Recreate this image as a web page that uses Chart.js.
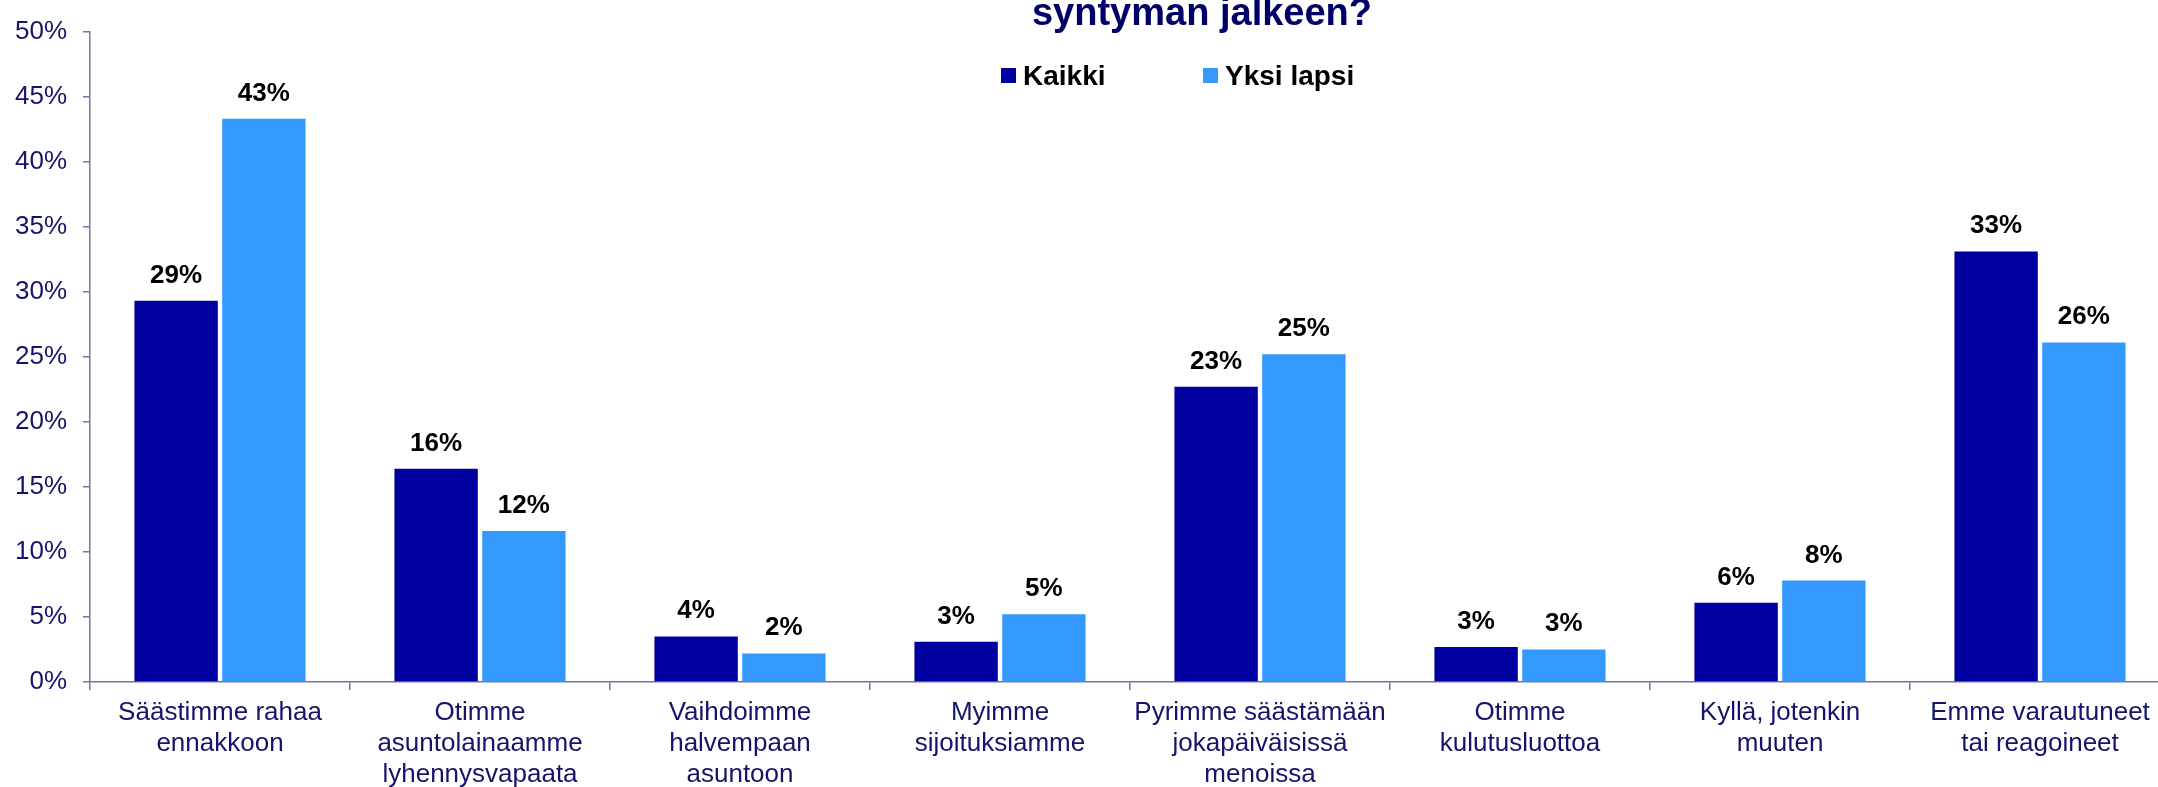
<!DOCTYPE html>
<html>
<head>
<meta charset="utf-8">
<script src="https://cdn.jsdelivr.net/npm/chart.js@4/dist/chart.umd.min.js"></script>
<style>
  html, body { margin: 0; padding: 0; background: #fff; overflow: hidden; }
  canvas { display: block; }
</style>
</head>
<body>
<canvas id="barChart" width="2170" height="787" style="width:2170px;height:787px"></canvas>
<script>
// chart data
const categories = [
    ['Säästimme rahaa', 'ennakkoon'],
    ['Otimme', 'asuntolainaamme', 'lyhennysvapaata'],
    ['Vaihdoimme', 'halvempaan', 'asuntoon'],
    ['Myimme', 'sijoituksiamme'],
    ['Pyrimme säästämään', 'jokapäiväisissä', 'menoissa'],
    ['Otimme', 'kulutusluottoa'],
    ['Kyllä, jotenkin', 'muuten'],
    ['Emme varautuneet', 'tai reagoineet']
];
const seriesNames = ['Kaikki', 'Yksi lapsi'];
const kaikkiValues = [29.3, 16.4, 3.5, 3.1, 22.7, 2.7, 6.1, 33.1];
const yksiLapsiValues = [43.3, 11.6, 2.2, 5.2, 25.2, 2.5, 7.8, 26.1];
const seriesColors = ['#0000a0', '#3399ff'];
const titleText = 'syntyman jalkeen?';

const axisColor = '#7474a8';
const navy = '#14146b';
const fontFamily = '"Liberation Sans", Arial, sans-serif';

// title + legend drawn over the top of the plot, like in the original
const headerPlugin = {
    id: 'header',
    afterDraw(chart) {
        const ctx = chart.ctx;
        ctx.save();
        ctx.fillStyle = '#000066';
        ctx.font = 'bold 38px ' + fontFamily;
        ctx.textAlign = 'center';
        ctx.textBaseline = 'alphabetic';
        ctx.fillText(titleText, 1202, 25);

        const boxX = [1001, 1203];
        chart.data.datasets.forEach((ds, i) => {
            ctx.fillStyle = ds.backgroundColor;
            ctx.fillRect(boxX[i], 68, 15, 15);
            ctx.fillStyle = '#000';
            ctx.font = 'bold 28px ' + fontFamily;
            ctx.textAlign = 'left';
            ctx.fillText(ds.label, boxX[i] + 22, 85);
        });
        ctx.restore();
    }
};

// value labels above each bar
const valueLabelPlugin = {
    id: 'valueLabels',
    afterDatasetsDraw(chart) {
        const ctx = chart.ctx;
        ctx.save();
        ctx.fillStyle = '#000';
        ctx.font = 'bold 26px ' + fontFamily;
        ctx.textAlign = 'center';
        ctx.textBaseline = 'alphabetic';
        chart.data.datasets.forEach((ds, i) => {
            chart.getDatasetMeta(i).data.forEach((bar, j) => {
                ctx.fillText(Math.round(ds.data[j]) + '%', bar.x, bar.y - 18);
            });
        });
        ctx.restore();
    }
};

const barCtx = document.getElementById('barChart').getContext('2d');
new Chart(barCtx, {
    type: 'bar',
    data: {
        labels: categories,
        datasets: [
            {
                label: seriesNames[0],
                data: kaikkiValues,
                backgroundColor: seriesColors[0],
                categoryPercentage: 0.675,
                barPercentage: 0.95
            },
            {
                label: seriesNames[1],
                data: yksiLapsiValues,
                backgroundColor: seriesColors[1],
                categoryPercentage: 0.675,
                barPercentage: 0.95
            }
        ]
    },
    options: {
        responsive: false,
        animation: false,
        layout: {
            padding: { top: 22, left: 0, right: 0, bottom: 0 }
        },
        plugins: {
            legend: { display: false },
            title: { display: false },
            tooltip: { enabled: false }
        },
        scales: {
            x: {
                afterFit: (scale) => { scale.height = 105; },
                grid: {
                    offset: true,
                    drawOnChartArea: false,
                    drawTicks: true,
                    tickLength: 8,
                    color: axisColor,
                    lineWidth: 1.5
                },
                border: { display: true, color: axisColor, width: 1.5 },
                ticks: {
                    color: navy,
                    padding: 7,
                    maxRotation: 0,
                    autoSkip: false,
                    font: { family: fontFamily, size: 26, lineHeight: 1.2 }
                }
            },
            y: {
                min: 0,
                max: 50,
                afterFit: (scale) => { scale.width = 90; },
                grid: {
                    drawOnChartArea: false,
                    drawTicks: true,
                    tickLength: 7,
                    color: axisColor,
                    lineWidth: 1.5
                },
                border: { display: true, color: axisColor, width: 1.5 },
                ticks: {
                    stepSize: 5,
                    color: navy,
                    padding: 16,
                    font: { family: fontFamily, size: 26 },
                    callback: (value) => value + '%'
                }
            }
        }
    },
    plugins: [headerPlugin, valueLabelPlugin]
});
</script>
</body>
</html>
